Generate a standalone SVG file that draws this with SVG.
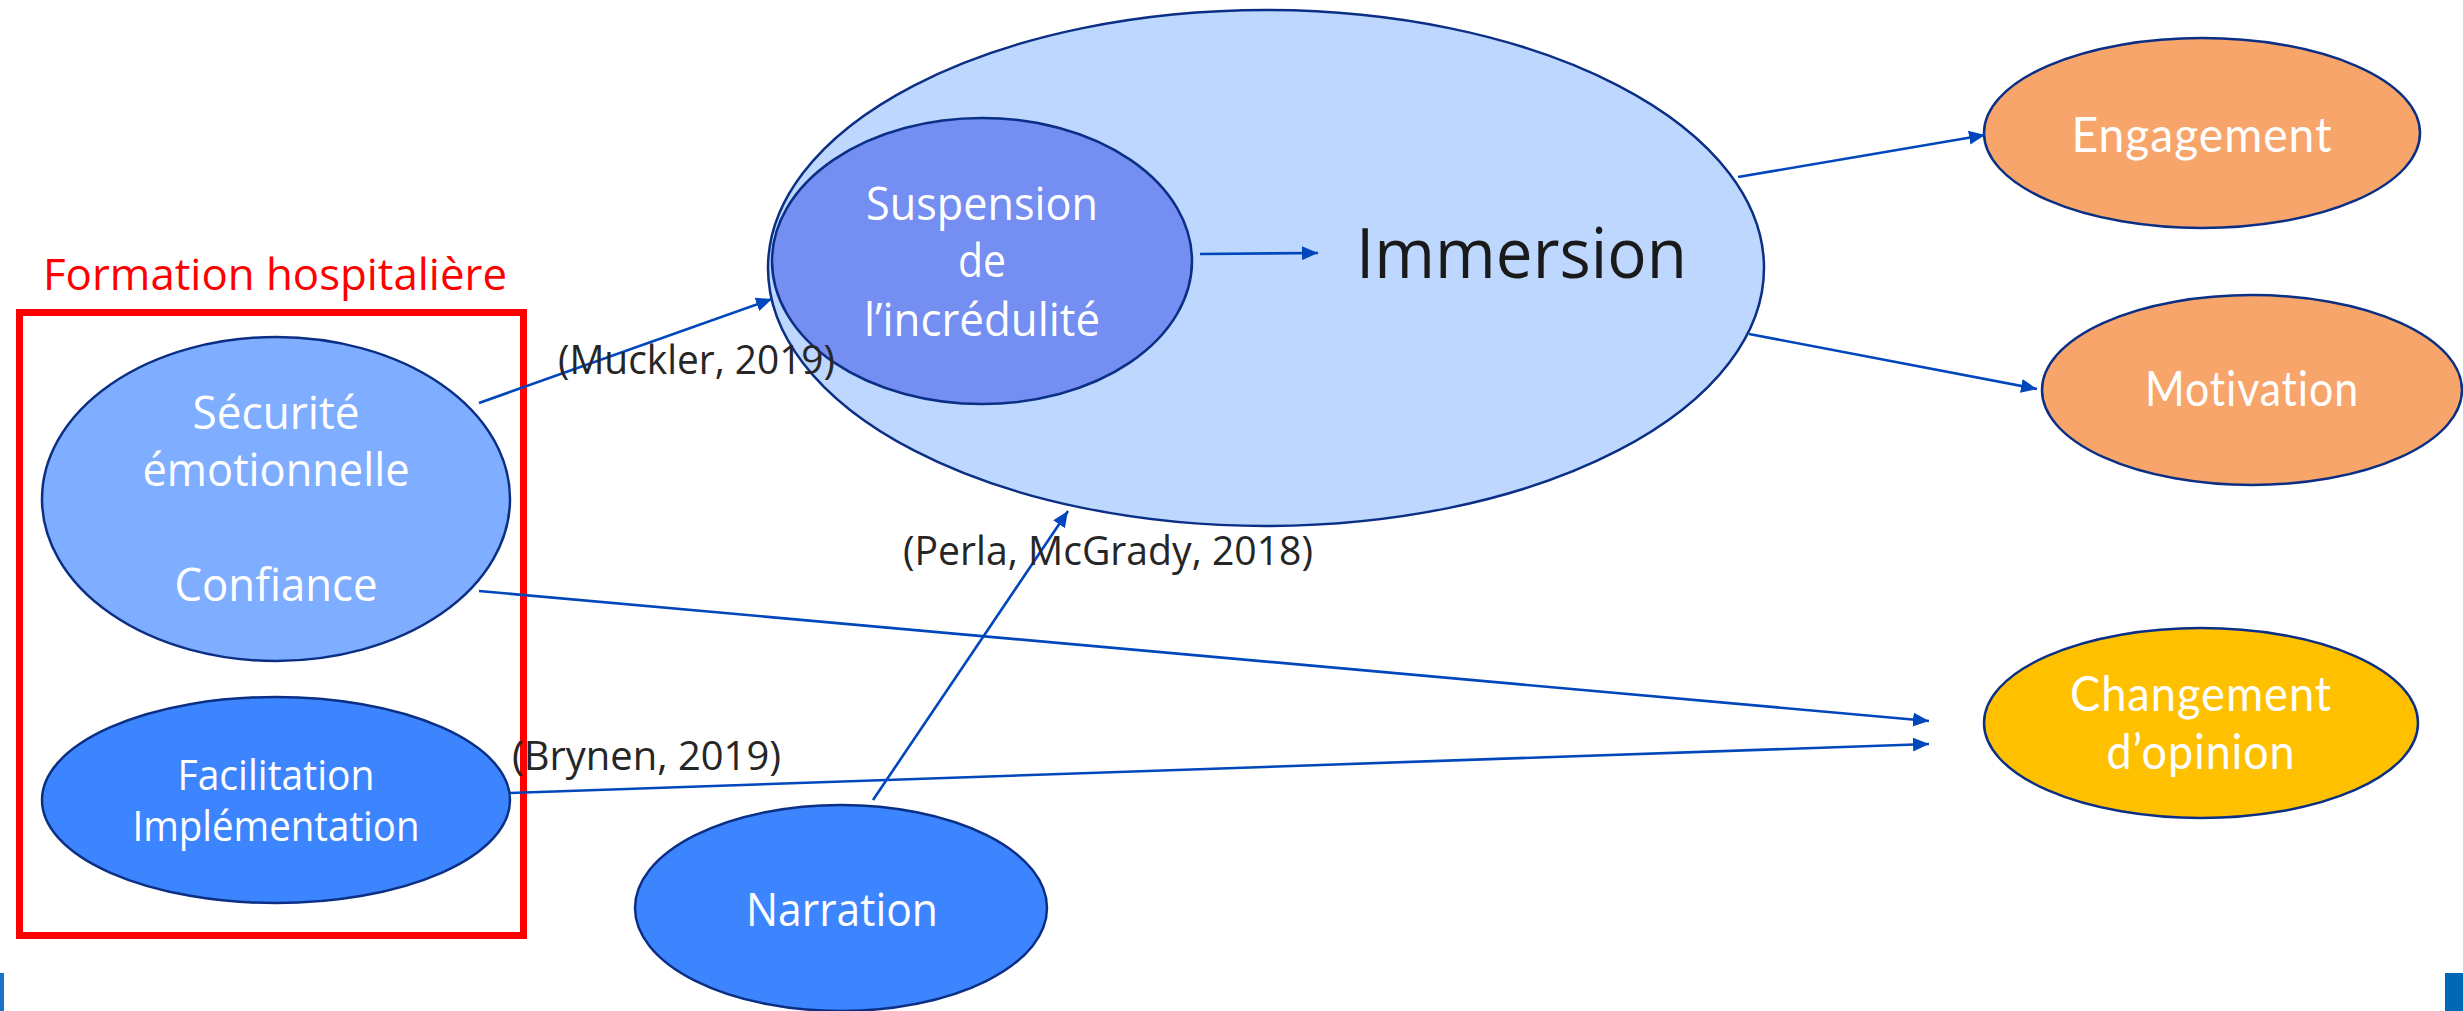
<svg xmlns="http://www.w3.org/2000/svg" width="2463" height="1011" viewBox="0 0 2463 1011">
<style>
.node{stroke:#0B2F85;stroke-width:2.5}
.cond{font-family:"Open Sans","Liberation Sans",sans-serif;fill:#FFFFFF;text-anchor:middle;font-size:45px}
.geo{font-family:"Lato","Liberation Sans",sans-serif;fill:#FFFFFF;text-anchor:middle;font-size:48px;letter-spacing:1px}
.cite{font-family:"Open Sans","Liberation Sans",sans-serif;fill:#262626;font-size:41px}
.conn{stroke:#0047BB;stroke-width:2.6;fill:none;marker-end:url(#arr)}
</style>
<defs>
<marker id="arr" viewBox="0 0 16 14" refX="16" refY="7" markerWidth="16" markerHeight="14" markerUnits="userSpaceOnUse" orient="auto">
<path d="M0,0 L16,7 L0,14 Z" fill="#0047BB"/>
</marker>
</defs>
<rect width="2463" height="1011" fill="#FFFFFF"/>

<g id="formation-hospitaliere">
<rect x="19.5" y="312.5" width="504" height="623" fill="none" stroke="#FF0000" stroke-width="7"/>
<text x="43" y="290" font-family="Open Sans,Liberation Sans,sans-serif" font-size="43" fill="#FF0000" textLength="464" lengthAdjust="spacingAndGlyphs">Formation hospitalière</text>
</g>

<g id="securite">
<ellipse class="node" cx="276" cy="499" rx="234" ry="162" fill="#7FADFF"/>
<text class="cond" x="276" y="429" textLength="167" lengthAdjust="spacingAndGlyphs">Sécurité</text>
<text class="cond" x="276" y="486" textLength="267" lengthAdjust="spacingAndGlyphs">émotionnelle</text>
<text class="cond" x="276" y="601" textLength="203" lengthAdjust="spacingAndGlyphs">Confiance</text>
</g>

<g id="facilitation">
<ellipse class="node" cx="276" cy="800" rx="234" ry="103" fill="#3D85FF"/>
<text class="cond" x="276" y="790" font-size="42" style="font-size:42px" textLength="197" lengthAdjust="spacingAndGlyphs">Facilitation</text>
<text class="cond" x="276" y="841" font-size="42" style="font-size:42px" textLength="287" lengthAdjust="spacingAndGlyphs">Implémentation</text>
</g>

<g id="narration">
<ellipse class="node" cx="841" cy="908" rx="206" ry="103" fill="#3D85FF"/>
<text class="cond" x="842" y="926" textLength="192" lengthAdjust="spacingAndGlyphs">Narration</text>
</g>

<g id="immersion">
<ellipse class="node" cx="1266" cy="268" rx="498" ry="258" fill="#BDD7FF"/>
<text x="1356" y="278" font-family="Open Sans,Liberation Sans,sans-serif" font-size="70" fill="#1A1A1A" textLength="331" lengthAdjust="spacingAndGlyphs">Immersion</text>
</g>

<g id="suspension">
<ellipse class="node" cx="982" cy="261" rx="210" ry="143" fill="#748EF2"/>
<text class="cond" x="982" y="220" textLength="232" lengthAdjust="spacingAndGlyphs">Suspension</text>
<text class="cond" x="982" y="277" textLength="48" lengthAdjust="spacingAndGlyphs">de</text>
<text class="cond" x="982" y="336" textLength="236" lengthAdjust="spacingAndGlyphs">l’incrédulité</text>
</g>

<g id="engagement">
<ellipse class="node" cx="2202" cy="133" rx="218" ry="95" fill="#F7A56A"/>
<text class="geo" x="2202" y="152" textLength="261" lengthAdjust="spacingAndGlyphs">Engagement</text>
</g>

<g id="motivation">
<ellipse class="node" cx="2252" cy="390" rx="210" ry="95" fill="#F7A56A"/>
<text class="geo" x="2252" y="406" textLength="214" lengthAdjust="spacingAndGlyphs">Motivation</text>
</g>

<g id="changement">
<ellipse class="node" cx="2201" cy="723" rx="217" ry="95" fill="#FFC000"/>
<text class="geo" x="2201" y="711" textLength="262" lengthAdjust="spacingAndGlyphs">Changement</text>
<text class="geo" x="2201" y="769" textLength="189" lengthAdjust="spacingAndGlyphs">d’opinion</text>
</g>

<g id="connectors">
<line class="conn" x1="479" y1="403" x2="772" y2="299"/>
<line class="conn" x1="479" y1="591" x2="1929" y2="721"/>
<line class="conn" x1="510" y1="793" x2="1929" y2="744"/>
<line class="conn" x1="873" y1="800" x2="1068" y2="511"/>
<line class="conn" x1="1200" y1="254" x2="1318" y2="253"/>
<line class="conn" x1="1738" y1="177" x2="1985" y2="135"/>
<line class="conn" x1="1749" y1="334" x2="2037" y2="389"/>
</g>

<g id="labels">
<text class="cite" x="558" y="374" textLength="277" lengthAdjust="spacingAndGlyphs">(Muckler, 2019)</text>
<text class="cite" x="512" y="770" textLength="269" lengthAdjust="spacingAndGlyphs">(Brynen, 2019)</text>
<text class="cite" x="903" y="565" textLength="410" lengthAdjust="spacingAndGlyphs">(Perla, McGrady, 2018)</text>
</g>

<rect x="0" y="973" width="4" height="38" fill="#1A73C8"/>
<rect x="2445" y="973" width="18" height="38" fill="#0068B5"/>
</svg>
